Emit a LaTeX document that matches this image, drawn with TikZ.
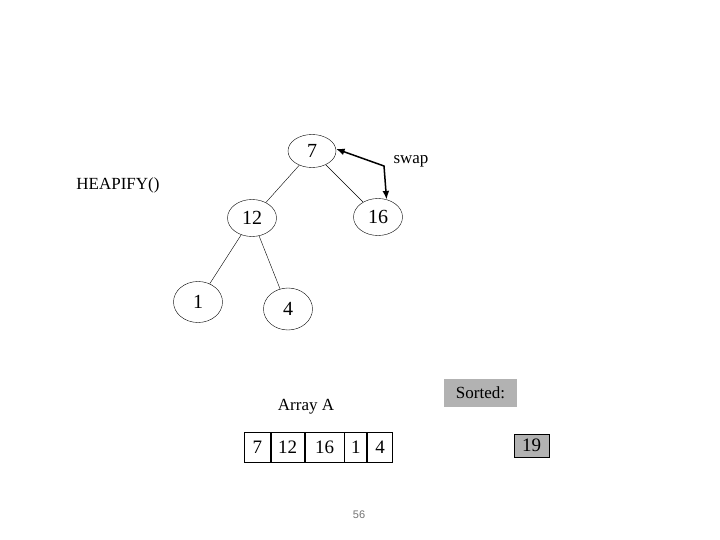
\documentclass[tikz,border=0pt]{standalone}
\usepackage{fontspec}
\setmainfont{Liberation Serif}
\newfontfamily\pagenumfont{Liberation Sans}
\usetikzlibrary{positioning,arrows.meta,shapes.geometric}

\begin{document}
\begin{tikzpicture}[x=1pt,y=-1pt,font=\fontsize{17}{20}\selectfont,
  heapnode/.style={draw,ellipse,inner sep=0pt,minimum width=49pt,minimum height=37pt,font=\fontsize{20}{24}\selectfont},
  cell/.style={draw,line width=0.8pt,minimum height=30pt,inner sep=0pt,font=\fontsize{19}{23}\selectfont},
  ar/.style={{Latex[length=3mm,width=2.4mm]}-{Latex[length=3mm,width=2.4mm]},line width=1.5pt}]
\useasboundingbox (0,0) rectangle (720,540);
% heap
\node[heapnode,minimum width=48pt,minimum height=33pt] (n7) at (312,151) {7};
\node[heapnode] (n12) at (252,218) {12};
\node[heapnode] (n16) at (378,217) {16};
\node[heapnode,minimum height=41pt] (n1) at (198,302) {1};
\node[heapnode,minimum height=42pt] (n4) at (288,309) {4};
\draw (n7) -- (n12);
\draw (n7) -- (n16);
\draw (n12) -- (n1);
\draw (n12) -- (n4);
% swap arrow
\coordinate (bend) at (384,166);
\draw[ar] (n7.5) -- (bend) -- (n16.64);
\node (swap) at (411,161) {swap};
\node (heapify) at (118,185) {HEAPIFY()};
% array
\node (arrlabel) at (306,407) {Array A};
\node[cell,minimum width=26pt,anchor=west] (c1) at (244,447) {7};
\node[cell,minimum width=33pt,right=0pt of c1] (c2) {12};
\node[cell,minimum width=39pt,right=0pt of c2] (c3) {16};
\node[cell,minimum width=22pt,right=0pt of c3] (c4) {1};
\node[cell,minimum width=25pt,right=0pt of c4] (c5) {4};
% sorted part
\node[fill=black!30,minimum width=73pt,minimum height=28pt,inner sep=0pt] (sorted) at (480.5,393) {Sorted:};
\node[draw,fill=black!30,minimum width=35pt,minimum height=23pt,inner sep=0pt,font=\fontsize{19}{23}\selectfont] (s19) at (531.5,445.5) {19};
\node[text=black!55,font=\pagenumfont\fontsize{11}{13}\selectfont] (pagenum) at (359,515) {56};
\end{tikzpicture}
\end{document}
